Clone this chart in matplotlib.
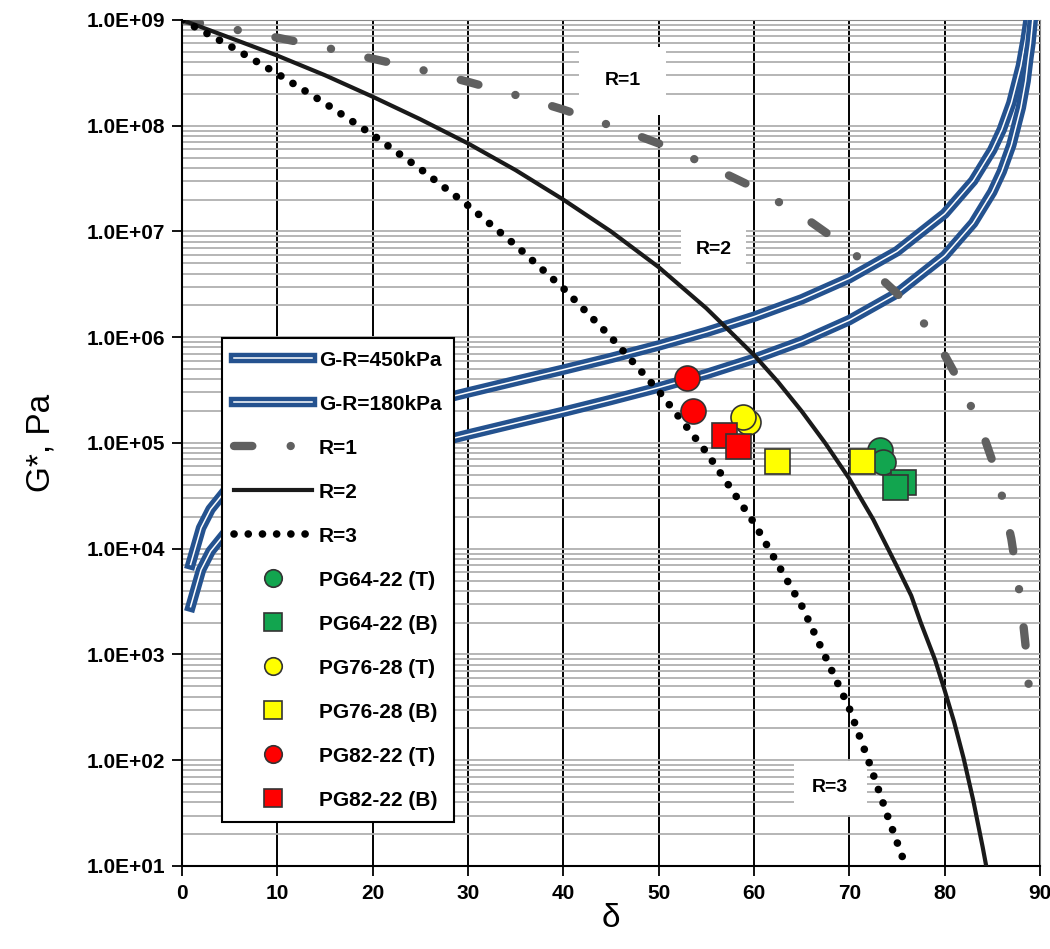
import numpy as np
import matplotlib
matplotlib.use("Agg")
import matplotlib.pyplot as plt
import matplotlib.patheffects as pe
from matplotlib.ticker import FuncFormatter, LogLocator, MultipleLocator

plt.rcParams['font.family'] = ['Liberation Sans', 'DejaVu Sans']

# ---- data ----
# Glover-Rowe lines (delta in deg, G* in Pa)
gr_delta = [0.9, 2, 3, 5, 7, 10, 15, 20, 25, 30, 35, 40, 45, 50, 55, 60, 65, 70, 75, 80, 83, 85, 86, 87, 88, 88.5, 88.8, 89.0, 89.25]
gr450 = [7.1e3, 1.57e4, 2.36e4, 3.95e4, 5.55e4, 8.06e4, 1.25e5, 1.74e5, 2.32e5, 3.0e5, 3.85e5, 4.93e5, 6.36e5,
         8.34e5, 1.12e6, 1.56e6, 2.28e6, 3.61e6, 6.49e6, 1.47e7, 3.01e7, 5.9e7, 9.2e7, 1.64e8, 3.69e8, 6.56e8, 1.0e9,
         np.nan, np.nan]
gr180 = [2.83e3, 6.29e3, 9.45e3, 1.58e4, 2.22e4, 3.22e4, 4.99e4, 6.97e4, 9.26e4, 1.2e5, 1.54e5, 1.97e5, 2.55e5,
         3.34e5, 4.48e5, 6.24e5, 9.13e5, 1.45e6, 2.6e6, 5.88e6, 1.2e7, 2.36e7, 3.69e7, 6.56e7, 1.48e8, 2.63e8, 4.4e8,
         5.9e8, 1.0e9]

# R lines
r1_delta = [0, 5, 10, 15, 20, 25, 30, 35, 40, 45, 50, 55, 60, 65, 70, 75, 78, 80, 82, 84, 85, 86, 87, 88, 88.5, 89]
r1 = [1.0e9, 8.3e8, 6.8e8, 5.5e8, 4.3e8, 3.4e8, 2.6e8, 1.95e8, 1.42e8, 1.0e8, 6.8e7, 4.3e7, 2.6e7, 1.42e7,
      6.8e6, 2.6e6, 1.3e6, 6.8e5, 3.2e5, 1.24e5, 6.8e4, 3.2e4, 1.24e4, 3.2e3, 1.2e3, 3.2e2]
r2_delta = [0, 5, 10, 15, 20, 25, 30, 35, 40, 45, 50, 55, 60, 62.5, 65, 67.5, 70, 72.5, 75, 76.5, 77.5, 79, 80,
            81, 82, 83, 84, 84.5]
r2 = [1.0e9, 6.8e8, 4.6e8, 3.0e8, 1.88e8, 1.15e8, 6.8e7, 3.8e7, 2.0e7, 1.0e7, 4.6e6, 1.88e6, 6.8e5, 3.8e5,
      2.0e5, 9.9e4, 4.6e4, 1.9e4, 6.8e3, 3.6e3, 2.0e3, 8.9e2, 4.6e2, 2.3e2, 1.04e2, 4.2e1, 15, 8.6]
r3_delta = [0, 5, 10, 15, 20, 25, 30, 35, 40, 45, 50, 55, 60, 65, 70, 72, 74, 75.6]
r3 = [1.0e9, 5.7e8, 3.1e8, 1.63e8, 8.2e7, 3.9e7, 1.76e7, 7.4e6, 2.9e6, 1.0e6, 3.1e5, 8.2e4, 1.76e4, 2.9e3,
      3.1e2, 1.0e2, 3.0e1, 1.2e1]

# binders (delta, G*)
pg64_t_d = [73.2, 73.5]
pg64_t_g = [8.6e4, 6.6e4]
pg64_b_d = [75.6, 74.8]
pg64_b_g = [4.3e4, 3.8e4]
pg76_t_d = [59.4, 58.9]
pg76_t_g = [1.58e5, 1.76e5]
pg76_b_d = [62.4, 71.3]
pg76_b_g = [6.8e4, 6.8e4]
pg82_t_d = [53.0, 53.6]
pg82_t_g = [4.1e5, 2.0e5]
pg82_b_d = [56.9, 58.3]
pg82_b_g = [1.19e5, 9.3e4]

blue = '#24528f'

fig = plt.figure(figsize=(10.5, 9.49), dpi=100)
ax = fig.add_axes([0.1733, 0.0875, 0.8171, 0.8915])
ax.set_yscale('log')
ax.set_xlim(0, 90)
ax.set_ylim(10, 1e9)

# grid
ax.yaxis.set_major_locator(LogLocator(base=10, numticks=20))
ax.yaxis.set_minor_locator(LogLocator(base=10, subs=np.arange(2, 10), numticks=20))
ax.xaxis.set_major_locator(MultipleLocator(10))
ax.grid(True, which='both', axis='y', color='#b0b0b0', lw=1.3, zorder=0)
ax.grid(True, which='major', axis='x', color='black', lw=1.4, zorder=0)
ax.set_axisbelow(True)

# G-R lines: blue with thin white stripe
stripe = [pe.Stroke(linewidth=7.5, foreground=blue), pe.Normal()]
l_gr1, = ax.plot(gr_delta, gr450, color='white', lw=1.1, path_effects=stripe, zorder=3)
l_gr2, = ax.plot(gr_delta, gr180, color='white', lw=1.1, path_effects=stripe, zorder=3)

l_r1, = ax.plot(r1_delta, r1, color='#606060', lw=6, linestyle=(0, (2.2, 4.6, 0.01, 4.6)),
                dash_capstyle='round', zorder=4)
l_r2, = ax.plot(r2_delta, r2, color='#1a1a1a', lw=3, zorder=4)
l_r3, = ax.plot(r3_delta, r3, color='black', lw=5.5, linestyle=(0, (0.01, 1.85)),
                dash_capstyle='round', zorder=4)

ms = 18
kw = dict(linestyle='none', markersize=ms, markeredgecolor='#333333', markeredgewidth=1.2, zorder=6)
p1, = ax.plot(pg64_t_d, pg64_t_g, marker='o', color='#12a54f', **kw)
p2, = ax.plot(pg64_b_d, pg64_b_g, marker='s', color='#12a54f', **kw)
p3, = ax.plot(pg76_t_d, pg76_t_g, marker='o', color='#ffff00', **kw)
p4, = ax.plot(pg76_b_d, pg76_b_g, marker='s', color='#ffff00', **kw)
p5, = ax.plot(pg82_t_d, pg82_t_g, marker='o', color='#ff0000', **kw)
p6, = ax.plot(pg82_b_d, pg82_b_g, marker='s', color='#ff0000', **kw)

# R labels in white boxes
ax.text(46.2, 2.65e8, 'R=1', fontsize=14, fontweight='bold', ha='center', va='center', zorder=2,
        bbox=dict(boxstyle='square,pad=1.3', fc='white', ec='none'))
ax.text(55.8, 6.7e6, 'R=2', fontsize=14, fontweight='bold', ha='center', va='center', zorder=2,
        bbox=dict(boxstyle='square,pad=0.75', fc='white', ec='none'))
ax.text(68.0, 55, 'R=3', fontsize=14, fontweight='bold', ha='center', va='center', zorder=2,
        bbox=dict(boxstyle='square,pad=0.95', fc='white', ec='none'))

# axes styling
ax.yaxis.set_major_formatter(FuncFormatter(lambda v, p: '%.1E' % v))
ax.yaxis.set_minor_formatter(FuncFormatter(lambda v, p: ''))
ax.tick_params(axis='y', which='major', length=7, width=1.3, labelsize=15, pad=5)
ax.tick_params(axis='y', which='minor', length=0)
ax.tick_params(axis='x', length=7, width=1.3, labelsize=15, pad=6)
for lab in ax.get_xticklabels() + ax.get_yticklabels():
    lab.set_fontweight('bold')
ax.spines['left'].set_linewidth(1.5)
ax.spines['bottom'].set_linewidth(1.5)
ax.spines['top'].set_color('#888888')
ax.spines['right'].set_color('#888888')

ax.set_ylabel('G*, Pa', fontsize=24, labelpad=22)
ax.set_xlabel('δ', fontsize=24, labelpad=0)

handles = [l_gr1, l_gr2, l_r1, l_r2, l_r3, p1, p2, p3, p4, p5, p6]
labels = ['G-R=450kPa', 'G-R=180kPa', 'R=1', 'R=2', 'R=3', 'PG64-22 (T)', 'PG64-22 (B)',
          'PG76-28 (T)', 'PG76-28 (B)', 'PG82-22 (T)', 'PG82-22 (B)']
leg = ax.legend(handles, labels, loc='upper left', bbox_to_anchor=(0.0466, 0.624), fontsize=15,
                markerscale=0.7, handlelength=3.7, labelspacing=1.2, borderpad=0.6,
                handletextpad=0.35, borderaxespad=0, fancybox=False, framealpha=1, edgecolor='black')
leg.get_frame().set_linewidth(1.5)
leg.set_zorder(10)
for t in leg.get_texts():
    t.set_fontweight('bold')

fig.savefig('out.png', dpi=100)
